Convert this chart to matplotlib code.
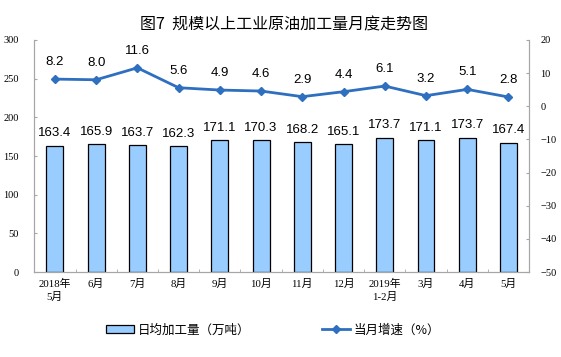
import matplotlib
matplotlib.use('Agg')
import matplotlib.pyplot as plt
import numpy as np

plt.rcParams['font.family'] = ['Noto Sans CJK SC', 'DejaVu Sans']

months = ['2018年\n5月', '6月', '7月', '8月', '9月', '10月', '11月', '12月',
          '2019年\n1-2月', '3月', '4月', '5月']
output = [163.4, 165.9, 163.7, 162.3, 171.1, 170.3, 168.2, 165.1, 173.7, 171.1, 173.7, 167.4]
growth = [8.2, 8.0, 11.6, 5.6, 4.9, 4.6, 2.9, 4.4, 6.1, 3.2, 5.1, 2.8]

serif = ['Liberation Serif', 'Noto Sans CJK SC']
grey = '#A6A6A6'

fig = plt.figure(figsize=(5.61, 3.57), dpi=100)
ax = fig.add_axes([0.0611, 0.238, 0.882, 0.650])
x = np.arange(len(months))

ax.bar(x, output, width=0.41, color='#99CCFF', edgecolor='black', linewidth=0.9,
       label='日均加工量（万吨）', zorder=2)
for xi, v in zip(x, output):
    ax.text(xi, v + 8, f'{v:.1f}', ha='center', va='bottom', fontsize=9.5,
            family='Liberation Sans')
ax.set_ylim(0, 300)
ax.set_xlim(-0.5, len(months) - 0.5)
ax.set_yticks(range(0, 301, 50))
ax.set_xticks(x)
ax.set_xticklabels(months, fontsize=7.8, family=serif, linespacing=1.35)
ax.set_xticks(np.arange(-0.5, len(months), 1), minor=True)
ax.tick_params(axis='x', which='major', length=0, pad=5)
ax.tick_params(axis='x', which='minor', length=2.5, direction='in', color=grey)
ax.tick_params(axis='y', labelsize=7.5, length=2.5, direction='in', color=grey, pad=11)
for lbl in ax.get_yticklabels():
    lbl.set_family(serif)
ax.spines['top'].set_visible(False)
for s in ['left', 'right', 'bottom']:
    ax.spines[s].set_color(grey)

ax2 = ax.twinx()
ax2.plot(x, growth, color='#2E6FBF', linewidth=2, marker='D', markersize=4.5,
         label='当月增速（%）', zorder=3)
for xi, v in zip(x, growth):
    ax2.text(xi, v + 3.3, f'{v:.1f}', ha='center', va='bottom', fontsize=9.5,
             family='Liberation Sans')
ax2.set_ylim(-50, 20)
ax2.set_yticks(range(-50, 21, 10))
ax2.tick_params(axis='y', labelsize=7.5, length=2.5, direction='in', color=grey, pad=8)
for lbl in ax2.get_yticklabels():
    lbl.set_family(serif)
ax2.spines['top'].set_visible(False)
ax2.spines['right'].set_color(grey)
ax2.spines['left'].set_color(grey)
ax2.spines['bottom'].set_color(grey)

fig.text(0.506, 0.93, '图7  规模以上工业原油加工量月度走势图', ha='center', va='center',
         fontsize=11.5)

h1, l1 = ax.get_legend_handles_labels()
h2, l2 = ax2.get_legend_handles_labels()
fig.legend(h1 + h2, l1 + l2, loc='center', bbox_to_anchor=(0.487, 0.076), ncol=2,
           frameon=False, fontsize=9, columnspacing=5.8, handlelength=2.2,
           handletextpad=0.3)

fig.savefig('out.png', dpi=100)
